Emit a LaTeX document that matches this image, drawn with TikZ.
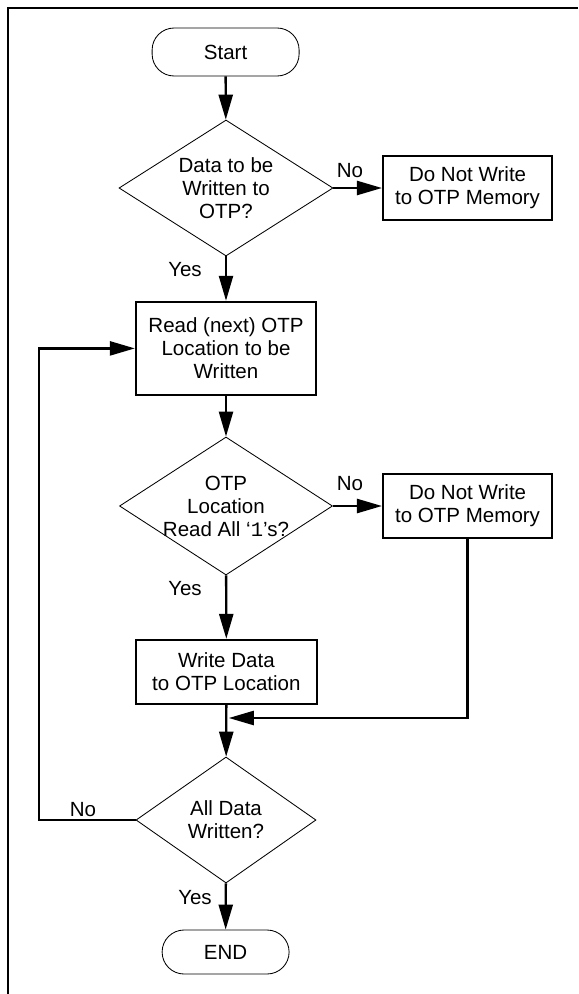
\documentclass[tikz,border=0pt]{standalone}
\usepackage{fontspec}
\setmainfont{Liberation Sans}
\setmonofont{Liberation Mono}
\usepackage{tikz}
\usetikzlibrary{shapes.geometric, arrows.meta}

\begin{document}
\begin{tikzpicture}[
    font=\fontsize{14.6pt}{16.4pt}\selectfont,
    terminal/.style={draw, line width=0.6pt, rounded corners=0.55cm},
    process/.style={draw, line width=1.6pt, align=center, inner sep=0pt},
    decision/.style={draw, diamond, line width=0.6pt, inner sep=0pt},
    flow/.style={line width=1.7pt, -{Triangle[length=0.625cm, width=0.35cm]}},
    plain/.style={line width=1.7pt}
  ]
        \useasboundingbox (0, 0) rectangle (14.45, -24.85);

        % frame
        \draw [line width=0.05cm] (0.2, -24.85) -- (0.2, -0.1875) -- (14.45, -0.1875);

        % Start
        \node [terminal, minimum width=3.675cm, minimum height=1.2cm]
          (start) at (5.64, -1.3) {Start};

        % data to be written?
        \node [decision, minimum width=5.35cm, minimum height=3.4cm]
          (dataq) at (5.65, -4.7) {};
        \node [align=center] (dataqtext) at (dataq) {Data to be\\Written to\\OTP?};

        % do not write
        \node [process, minimum width=4.225cm, minimum height=1.6cm]
          (skipa) at (11.69, -4.7) {Do Not Write\\to OTP Memory};

        % read location
        \node [process, minimum width=4.5cm, minimum height=2.325cm]
          (readloc) at (5.65, -8.71) {Read (next) OTP\\Location to be\\Written};

        % all 1s?
        \node [decision, minimum width=5.325cm, minimum height=3.45cm]
          (onesq) at (5.65, -12.65) {};
        \node [align=center] (onesqtext) at (onesq) {OTP\\Location\\Read All ‘\texttt{1}’s?};

        % do not write
        \node [process, minimum width=4.225cm, minimum height=1.6cm]
          (skipb) at (11.69, -12.65) {Do Not Write\\to OTP Memory};

        % write data
        \node [process, minimum width=4.525cm, minimum height=1.6cm]
          (writeloc) at (5.66, -16.8) {Write Data\\to OTP Location};

        % all data written?
        \node [decision, minimum width=4.5cm, minimum height=3.15cm]
          (doneq) at (5.65, -20.5) {};
        \node [align=center] (doneqtext) at (doneq) {All Data\\Written?};

        % END
        \node [terminal, minimum width=3.175cm, minimum height=1.1cm]
          (finish) at (5.64, -23.8) {END};

        % yes / no
        \node (noa) at (8.75, -4.275) {No};
        \node (yesa) at (4.625, -6.75) {Yes};
        \node (nob) at (8.75, -12.1) {No};
        \node (yesb) at (4.625, -14.725) {Yes};
        \node (noc) at (2.075, -20.25) {No};
        \node (yesc) at (4.875, -22.45) {Yes};

        % corners
        \coordinate (merge) at (5.72, -17.95);
        \coordinate (loopcorner) at (0.975, -20.5);

        % the connectors
        \draw [flow] (start) -- (dataq);
        \draw [flow] (dataq) -- (skipa);
        \draw [flow] (dataq) -- (readloc);
        \draw [flow] (readloc) -- (onesq);
        \draw [flow] (onesq) -- (skipb);
        \draw [flow] (onesq) -- (writeloc);
        \draw [flow] (writeloc) -- (doneq);
        \draw [flow] (skipb.south) |- (merge);
        \draw [flow] (doneq.west) -- (loopcorner) |- (readloc.west);
        \draw [flow] (doneq) -- (finish);

      \end{tikzpicture}
\end{document}
